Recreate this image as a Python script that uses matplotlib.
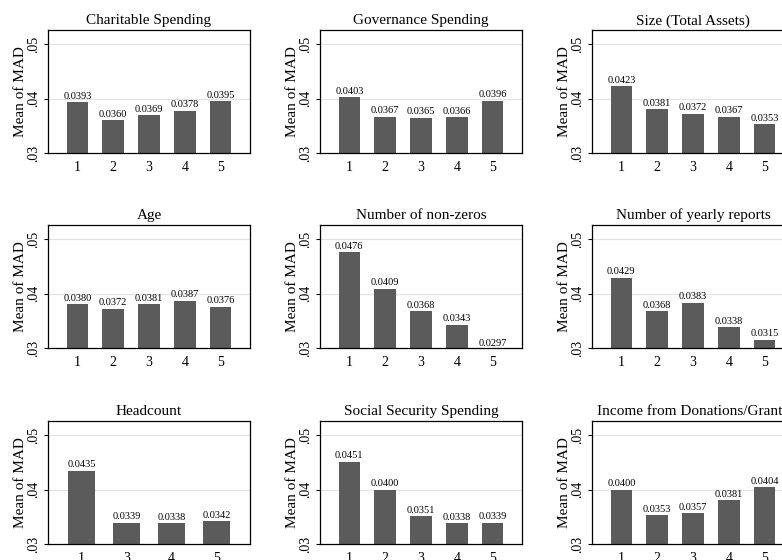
import matplotlib
matplotlib.use("Agg")
import matplotlib.pyplot as plt

plt.rcParams['font.family'] = ['Liberation Serif', 'DejaVu Serif']

# panel titles, read row by row
titles = [
    "Charitable Spending", "Governance Spending", "Size (Total Assets)",
    "Age", "Number of non-zeros", "Number of yearly reports",
    "Headcount", "Social Security Spending", "Income from Donations/Grants",
]

# category labels for each panel (headcount has no group 2)
groups = [
    ["1", "2", "3", "4", "5"], ["1", "2", "3", "4", "5"], ["1", "2", "3", "4", "5"],
    ["1", "2", "3", "4", "5"], ["1", "2", "3", "4", "5"], ["1", "2", "3", "4", "5"],
    ["1", "3", "4", "5"], ["1", "2", "3", "4", "5"], ["1", "2", "3", "4", "5"],
]

# mean of MAD per group
charitable = [0.0393, 0.0360, 0.0369, 0.0378, 0.0395]
governance = [0.0403, 0.0367, 0.0365, 0.0366, 0.0396]
size_assets = [0.0423, 0.0381, 0.0372, 0.0367, 0.0353]
age = [0.0380, 0.0372, 0.0381, 0.0387, 0.0376]
nonzeros = [0.0476, 0.0409, 0.0368, 0.0343, 0.0297]
yearly_reports = [0.0429, 0.0368, 0.0383, 0.0338, 0.0315]
headcount = [0.0435, 0.0339, 0.0338, 0.0342]
social_security = [0.0451, 0.0400, 0.0351, 0.0338, 0.0339]
donations = [0.0400, 0.0353, 0.0357, 0.0381, 0.0404]

values = [charitable, governance, size_assets, age, nonzeros,
          yearly_reports, headcount, social_security, donations]

yticks = [0.03, 0.04, 0.05]
ytick_labels = [".03", ".04", ".05"]

W, H = 782, 560
fig = plt.figure(figsize=(W / 100, H / 100), dpi=100)

# panel geometry in pixels (the right column runs off the edge, as in the source)
col_left = [48, 320, 592]
row_top = [30, 225, 421]
pw, ph = 202, 123
bar_color = "#5b5b5b"

for i, (title, labels, vals) in enumerate(zip(titles, groups, values)):
    r, c = divmod(i, 3)
    ax = fig.add_axes([col_left[c] / W, 1 - (row_top[r] + ph) / H, pw / W, ph / H])
    n = len(vals)
    x = list(range(1, n + 1))
    ax.bar(x, vals, width=0.6, color=bar_color, zorder=2)
    for xi, v in zip(x, vals):
        ax.annotate(f"{v:.4f}", (xi, v), xytext=(0, 1), textcoords="offset points",
                    ha="center", va="bottom", fontsize=7.5, annotation_clip=False,
                    zorder=3)
    m = 0.82 if n == 5 else 0.745
    ax.set_xlim(1 - m, n + m)
    ax.set_ylim(0.03, 0.0526)
    ax.set_xticks(x)
    ax.set_xticklabels(labels, fontsize=10)
    ax.set_yticks(yticks)
    ax.set_yticklabels(ytick_labels, fontsize=10, rotation=90, va="center")
    ax.tick_params(axis="x", length=0, pad=6)
    ax.tick_params(axis="y", length=3, width=0.8, pad=3)
    for yv in [0.04, 0.05]:
        ax.axhline(yv, color="#e3e3e3", lw=0.9, zorder=1)
    for s in ax.spines.values():
        s.set_linewidth(0.9)
        s.set_color("black")
    ax.set_title(title, fontsize=11, pad=4)
    ax.set_ylabel("Mean of MAD", fontsize=11)
    ax.yaxis.set_label_coords(-0.104, 0.5)

fig.savefig("out.png", dpi=100)
